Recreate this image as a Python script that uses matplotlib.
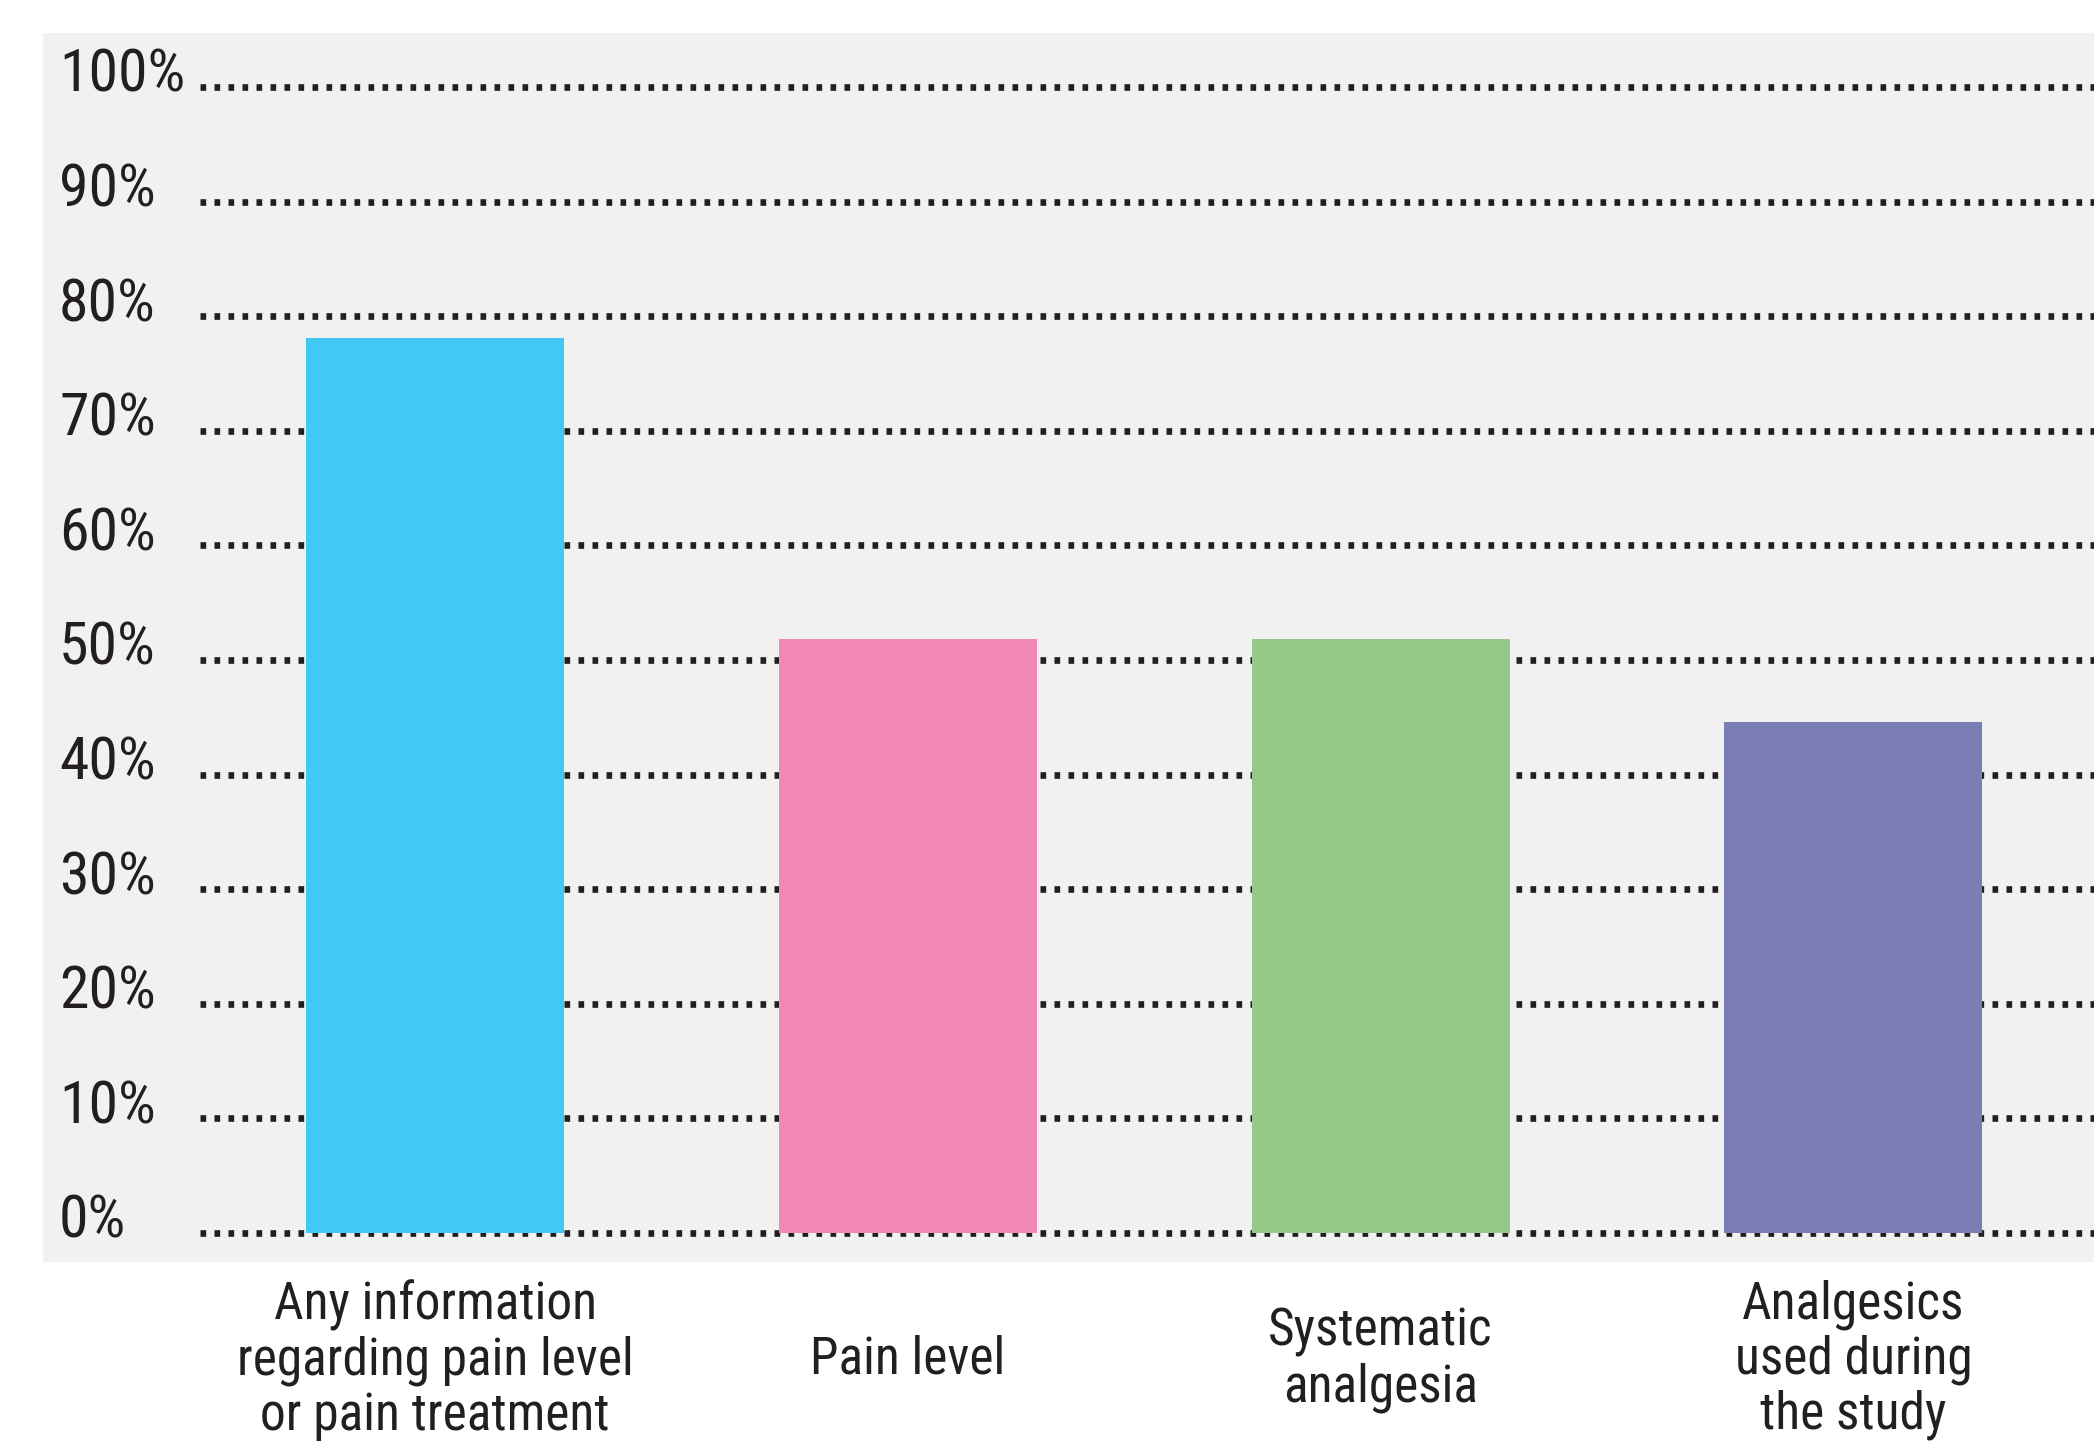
import matplotlib
matplotlib.use("Agg")
import matplotlib.pyplot as plt
import matplotlib.transforms as mtransforms
from matplotlib import font_manager
from matplotlib.patches import Rectangle

# data
categories = [
    "Any information\nregarding pain level\nor pain treatment",
    "Pain level",
    "Systematic\nanalgesia",
    "Analgesics\nused during\nthe study",
]
values = [78.1, 51.8, 51.8, 44.6]
bar_colors = ["#42c8f4", "#f288b5", "#94c98a", "#7b7eb4"]
y_ticks = [0, 10, 20, 30, 40, 50, 60, 70, 80, 90, 100]
y_labels = [f"{t}%" for t in y_ticks]


def pick_condensed():
    # look for a narrow / condensed regular sans face among installed fonts
    prefs = ["Liberation Sans Narrow", "Roboto Condensed", "Noto Sans", "Open Sans",
             "DejaVu Sans", "Roboto", "Inter", "Lato"]
    found = []
    for f in font_manager.fontManager.ttflist:
        tag = (str(f.stretch) + " " + f.name + " " + f.fname).lower()
        if not ("condensed" in tag or "narrow" in tag):
            continue
        if any(k in tag for k in ("extra", "ultra", "semi", "semicondensed")):
            continue
        if f.style != "normal" or str(f.weight) not in ("400", "normal", "regular"):
            continue
        found.append(f)
    for name in prefs:
        for f in found:
            if f.name == name:
                return f.fname
    return found[0].fname if found else None


fpath = pick_condensed()
if fpath:
    font = font_manager.FontProperties(fname=fpath)
else:
    font = font_manager.FontProperties(family="DejaVu Sans", stretch="condensed")
text_color = "#231f20"

W, H, DPI = 2094, 1450, 100
fig = plt.figure(figsize=(W / DPI, H / DPI), dpi=DPI)
fig.patch.set_facecolor("white")

# grey panel behind the plot
fig.patches.append(Rectangle((43 / W, 1 - 1262 / H), 1 - 43 / W, (1262 - 33) / H,
                             transform=fig.transFigure, facecolor="#f1f1f1",
                             edgecolor="none", zorder=-5))

# axes: 0% at y=1233px, 100% at y=87px, ylim padded by 2
px_per = (1233 - 87) / 100
bot = 1233 + 2 * px_per
top = 87 - 2 * px_per
ax = fig.add_axes([200 / W, 1 - bot / H, 1 - 200 / W, (bot - top) / H])
ax.set_facecolor("none")
ax.set_zorder(2)
ax.set_ylim(-2, 102)
ax.set_xlim(-0.4975, 3.509)

for t in y_ticks:
    ax.axhline(t, color=text_color, linewidth=4.8, linestyle=(0, (0.85, 1.25)),
               dash_capstyle="butt", zorder=1)

x = list(range(len(categories)))
ax.bar(x, values, width=0.546, color=bar_colors, edgecolor="none", zorder=2)

for s in ax.spines.values():
    s.set_visible(False)
ax.set_xticks([])
ax.set_yticks([])

# y labels, left aligned, baseline a bit under the dotted line
ytrans = mtransforms.blended_transform_factory(fig.transFigure, ax.transData)
ytrans = ytrans + mtransforms.ScaledTranslation(0, -5 / DPI, fig.dpi_scale_trans)
for t, lab in zip(y_ticks, y_labels):
    ax.text(59 / W, t, lab, transform=ytrans, ha="left", va="baseline",
            fontproperties=font, fontsize=43, color=text_color, clip_on=False)

# category labels under the panel
xtrans = mtransforms.blended_transform_factory(ax.transData, fig.transFigure)
for xi, lab in zip(x, categories):
    ax.text(xi, 1 - 1360 / H, lab, transform=xtrans, ha="center", va="center",
            fontproperties=font, fontsize=37, color=text_color, linespacing=1.12,
            clip_on=False)

fig.savefig("out.png", dpi=DPI)
